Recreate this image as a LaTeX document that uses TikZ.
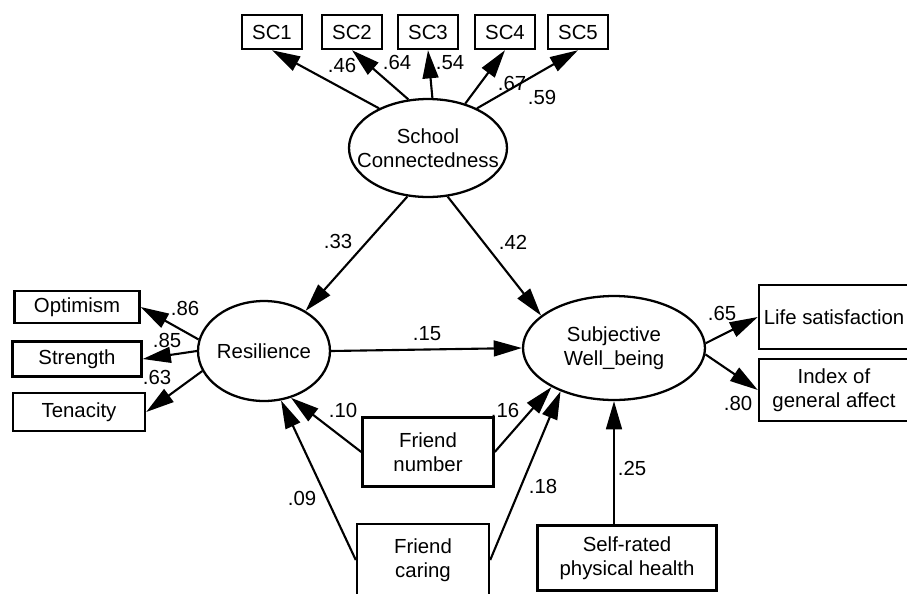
\documentclass[tikz,border=0pt]{standalone}
\usepackage{fontspec}
\setmainfont{Liberation Sans}
\usepackage{tikz}
\usetikzlibrary{arrows.meta,calc,positioning,shapes.geometric}
\newcommand{\zw}[1]{\makebox[0pt]{#1}}

\begin{document}
\begin{tikzpicture}[x=0.02cm,y=-0.02cm,
  font=\fontsize{11.6}{13.5}\selectfont,
  obs/.style={draw,line width=1.4pt,inner sep=0pt,align=center},
  lat/.style={draw,ellipse,line width=1.3pt,inner sep=0pt,align=center},
  reg/.style={line width=1.2pt,-{Triangle[length=16pt,width=9pt]}},
  coef/.style={inner sep=0pt}]
  \useasboundingbox (0,0) rectangle (907,593);
  % latent variables
  \node[lat,minimum width=3.16cm,minimum height=1.96cm] (sc) at (428,148) {\zw{School}\\\zw{Connectedness}};
  \node[lat,minimum width=2.64cm,minimum height=2cm] (res) at (264,351) {\zw{Resilience}};
  \node[lat,minimum width=3.64cm,minimum height=2.08cm] (swb) at (614,348) {\zw{Subjective}\\\zw{Well\_being}};
  % indicators
  \foreach \i/\x in {1/272,2/352,3/428,4/505,5/578} {
    \node[obs,minimum width=1.2cm,minimum height=0.68cm] (sc\i) at (\x,32) {SC\i};
  }
  \foreach \i/\a in {1/141,2/112,3/85,4/50,5/39} \draw[reg] (sc.\a) -- (sc\i.south);
  \node[obs,minimum width=2.5cm,minimum height=0.64cm] (opt) at (77,307) {Optimism};
  \node[obs,minimum width=2.58cm,minimum height=0.7cm] (str) at (77,359) {Strength};
  \node[obs,minimum width=2.64cm,minimum height=0.76cm] (ten) at (79,412) {Tenacity};
  \draw[reg] (res.170) -- (opt.east);
  \draw[reg] (res.180) -- (str.east);
  \draw[reg] (res.198) -- (ten.east);
  \node[obs,minimum width=3cm,minimum height=1.28cm] (life) at (834,317) {Life satisfaction};
  \node[obs,minimum width=3cm,minimum height=1.24cm] (idx) at (834,390) {Index of\\general affect};
  \draw[reg] (swb.3) -- (life.west);
  \draw[reg] (swb.356) -- (idx.west);
  % predictors
  \node[obs,minimum width=2.62cm,minimum height=1.38cm] (fn) at (428,452) {Friend\\number};
  \node[obs,minimum width=2.64cm,minimum height=1.44cm] (fc) at (423,560) {Friend\\caring};
  \node[obs,minimum width=3.58cm,minimum height=1.3cm] (srh) at (627,558) {Self-rated\\physical health};
  % structural paths
  \draw[reg] (sc.247) -- (res.44);
  \draw[reg] (sc.292) -- (swb.156);
  \draw[reg] (res.east) -- (swb.west);
  \draw[reg] (fn.west) -- (res.300);
  \draw[reg] (fc.west) -- (res.289);
  \draw[reg] (fn.east) -- (swb.212);
  \draw[reg] (fc.east) -- (swb.219);
  \draw[reg] (srh.north -| swb.south) -- (swb.south);
  % coefficients
  \foreach \v/\x/\y [count=\n] in {.46/342/65,.64/397/62,.54/450/63,.67/512/83,.59/542/97,
      .33/338/241,.42/513/242,.15/427/334,.86/185/308,.85/167/340,.63/157/377,
      .65/722/313,.80/738/403,.10/343/410,.16/505/410,.09/302/498,.18/543/486,.25/632/468} {
    \node[coef] (w\n) at (\x,\y) {\v};
  }
\end{tikzpicture}
\end{document}
